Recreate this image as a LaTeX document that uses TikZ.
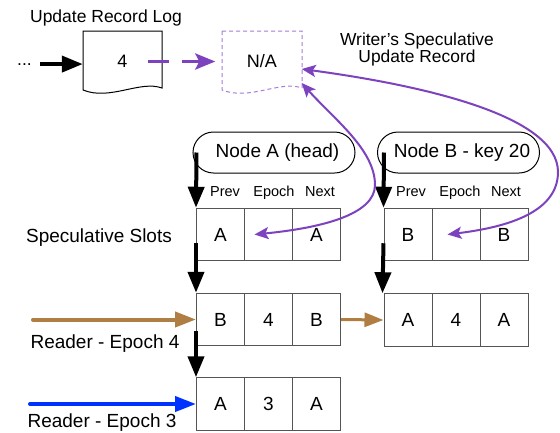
\documentclass[tikz,border=0pt]{standalone}
\usepackage{fontspec}
\setmainfont{Liberation Sans}
\usetikzlibrary{arrows.meta,shapes.misc,calc}
\definecolor{purp}{RGB}{125,66,190}
\definecolor{purlight}{RGB}{165,125,215}
\definecolor{brn}{RGB}{176,126,67}
\definecolor{blu}{RGB}{0,50,255}
\definecolor{cellgray}{RGB}{85,85,85}
\begin{document}
\begin{tikzpicture}[x=1pt,y=-1pt,
  txt/.style={inner sep=0pt, font=\fontsize{17.5}{17}\selectfont},
  bigtxt/.style={inner sep=0pt, font=\fontsize{19}{19}\selectfont},
  small/.style={inner sep=0pt, font=\fontsize{14.5}{14.5}\selectfont},
  docnode/.style={inner sep=0pt, minimum width=79pt, minimum height=60pt, font=\fontsize{18}{18}\selectfont},
  cellbox/.style={draw=cellgray, line width=1pt, inner sep=0pt, minimum width=48pt, minimum height=52.5pt, font=\fontsize{19}{19}\selectfont},
  stad/.style={draw, line width=1pt, rounded rectangle, inner sep=0pt, minimum width=162pt, minimum height=41pt, font=\fontsize{19}{19}\selectfont},
  blkarr/.style={line width=4pt, black, -{Triangle[length=21pt,width=16pt]}},
  brnarr/.style={line width=4pt, brn, line cap=round, -{Triangle[length=21pt,width=15pt]}},
  bluarr/.style={line width=4pt, blu, line cap=round, -{Triangle[length=21pt,width=15pt]}},
  purarr/.style={line width=2pt, purp, {Stealth[length=14pt,width=12pt,inset=3pt]}-{Stealth[length=14pt,width=12pt,inset=3pt]}},
  dasharr/.style={line width=3.5pt, purp, dash pattern=on 21pt off 13pt, -{Stealth[length=20pt,width=16pt,inset=4pt]}}
]
\useasboundingbox (0,0) rectangle (560,432);

% ---------- top: update record log ----------
\node[txt, anchor=base] (title) at (106,22) {Update Record Log};
\node[txt, anchor=base] (dots) at (24.5,65) {...};
\node[docnode] (log) at (122.5,61.5) {4};
\draw[line width=1pt] (83,31) -- (162,31) -- (162,88) .. controls (140,80) and (110,101) .. (83,90) -- cycle;
\node[docnode] (na) at (262,61.5) {N/A};
\draw[line width=1pt, purlight, dash pattern=on 4pt off 3pt] (222,31) -- (302,31) -- (302,88) .. controls (280,80) and (250,101) .. (222,90) -- cycle;
\node[txt, anchor=north, align=center, font=\fontsize{17.4}{17}\selectfont] (wr) at (417,32.3) {Writer’s Speculative\\Update Record};

\draw[blkarr] ([xshift=8pt]dots.east) -- (dots.east -| log.west);
\draw[dasharr, shorten >=7pt] ([xshift=-14pt]log.east) -- (na.west);

% ---------- list nodes ----------
\node[stad] (nodeA) at (274,152.5) {\hspace{7pt}Node A (head)};
\node[stad] (nodeB) at (458.5,152.5) {\hspace{7pt}Node B - key 20};

\node[small, anchor=base] (pa) at (225,196) {Prev};
\node[small, anchor=base] (ea) at (274,196) {Epoch};
\node[small, anchor=base] (xa) at (320,196) {Next};
\node[small, anchor=base] (pb) at (411,196) {Prev};
\node[small, anchor=base] (eb) at (460,196) {Epoch};
\node[small, anchor=base] (xb) at (506,196) {Next};

\node[bigtxt, anchor=base] (slots) at (99,242) {Speculative Slots};

% row 1
\node[cellbox] (a1p) at (220.5,234.5) {A};
\node[cellbox] (a1e) at (268.5,234.5) {};
\node[cellbox] (a1n) at (316.5,234.5) {A};
\node[cellbox] (b1p) at (408,234.5) {B};
\node[cellbox] (b1e) at (456,234.5) {};
\node[cellbox] (b1n) at (504,234.5) {B};
% row 2
\node[cellbox] (a2p) at (220.5,319.5) {B};
\node[cellbox] (a2e) at (268.5,319.5) {4};
\node[cellbox] (a2n) at (316.5,319.5) {B};
\node[cellbox] (b2p) at (408,320) {A};
\node[cellbox] (b2e) at (456,320) {4};
\node[cellbox] (b2n) at (504,320) {A};
% row 3
\node[cellbox] (a3p) at (220.5,404) {A};
\node[cellbox] (a3e) at (268.5,404) {3};
\node[cellbox] (a3n) at (316.5,404) {A};

% black pointers
\draw[blkarr] ([xshift=4pt]nodeA.west) -- (a1p.north west);
\draw[blkarr] ([yshift=18pt]a1p.south west) -- (a2p.north west);
\draw[blkarr] ([yshift=15pt]a2p.south west) -- (a3p.north west);
\draw[blkarr] ([xshift=7pt]nodeB.west) -- (b1p.north west);
\draw[blkarr] ([yshift=18pt]b1p.south west) -- ([xshift=-1pt]b2p.north west);

% readers
\coordinate (r4) at (33,319.5);
\coordinate (r3) at (30,404);
\draw[brnarr] (r4) -- (a2p.west);
\draw[brn, line width=3pt, -{Triangle[length=19pt,width=14pt]}] (a2n.east) -- (b2p.west);
\draw[bluarr] (r3) -- (a3p.west);
\node[bigtxt, anchor=base] (rd4) at (105,348) {Reader - Epoch 4};
\node[bigtxt, anchor=base] (rd3) at (102,427) {Reader - Epoch 3};

% writer's curved links
\coordinate (naR) at ([yshift=-7.5pt]na.east);
\coordinate (naBR) at ([yshift=-21.5pt]na.east);
\coordinate (aE) at ([xshift=10.5pt]a1e.west);
\coordinate (bE) at ([xshift=16pt]b1e.west);
\draw[purarr] (naBR) .. controls (335,120) and (375,150) .. (375,185) .. controls (375,215) and (320,228) .. (aE);
\draw[purarr] (naR) .. controls (420,85) and (558,115) .. (558,172) .. controls (558,215) and (500,228) .. (bE);
\end{tikzpicture}
\end{document}
